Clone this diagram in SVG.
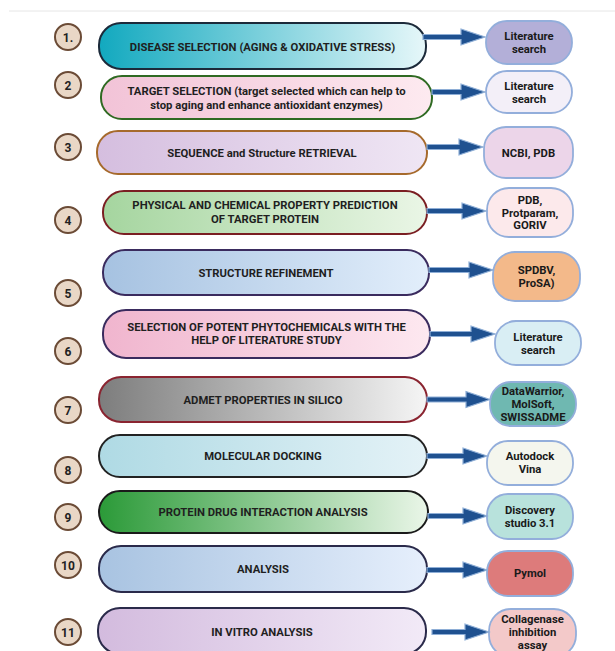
<svg xmlns="http://www.w3.org/2000/svg" width="615" height="651" viewBox="0 0 615 651">
<style>
.num circle{fill:#e9d7c6;stroke:#6b4b36;stroke-width:2}
.num text{font-family:Roboto,"Liberation Sans",sans-serif;font-weight:700;font-size:12px;fill:#222;text-anchor:middle}
.pill rect{stroke-width:2}
.pill text{font-family:Roboto,"Liberation Sans",sans-serif;font-weight:700;font-size:11.3px;fill:#1f1f1f;text-anchor:middle}
.box rect{stroke:#93aedb;stroke-width:1.8}
.box text{font-family:Roboto,"Liberation Sans",sans-serif;font-weight:700;font-size:11.3px;fill:#1a1a1a;text-anchor:middle}
.arr{fill:#1f5190;stroke:#8eaed6;stroke-width:1.2;stroke-linejoin:miter}
</style>
<defs>
<linearGradient id="g1"><stop offset="0" stop-color="#12a9bf"/><stop offset="1" stop-color="#e6f7f9"/></linearGradient>
<linearGradient id="g2"><stop offset="0" stop-color="#f2c3d7"/><stop offset="1" stop-color="#fdeaf0"/></linearGradient>
<linearGradient id="g3"><stop offset="0" stop-color="#d5bedf"/><stop offset="1" stop-color="#efe6f4"/></linearGradient>
<linearGradient id="g4"><stop offset="0" stop-color="#a5d59f"/><stop offset="1" stop-color="#eaf6e6"/></linearGradient>
<linearGradient id="g5"><stop offset="0" stop-color="#a6c2e1"/><stop offset="1" stop-color="#e2eefb"/></linearGradient>
<linearGradient id="g6"><stop offset="0" stop-color="#f0b5ce"/><stop offset="1" stop-color="#fde8f0"/></linearGradient>
<linearGradient id="g7"><stop offset="0" stop-color="#7d7d7d"/><stop offset="1" stop-color="#f5f5f5"/></linearGradient>
<linearGradient id="g8"><stop offset="0" stop-color="#afdae4"/><stop offset="1" stop-color="#e4f2f7"/></linearGradient>
<linearGradient id="g9"><stop offset="0" stop-color="#2b9a38"/><stop offset="1" stop-color="#eaf6e8"/></linearGradient>
<linearGradient id="g10"><stop offset="0" stop-color="#a8c3e1"/><stop offset="1" stop-color="#e6effc"/></linearGradient>
<linearGradient id="g11"><stop offset="0" stop-color="#d3bbde"/><stop offset="1" stop-color="#f2eaf7"/></linearGradient>
</defs>
<rect x="0" y="0" width="615" height="651" fill="#ffffff"/>
<line x1="9" y1="11" x2="615" y2="11" stroke="#e6e6e6" stroke-width="1"/>

<g id="numbers">
<g id="n1" class="num"><circle cx="68" cy="37" r="13"/><text x="68" y="41.5">1.</text></g>
<g id="n2" class="num"><circle cx="68" cy="85" r="13"/><text x="68" y="89.5">2</text></g>
<g id="n3" class="num"><circle cx="68" cy="147" r="13"/><text x="68" y="151.5">3</text></g>
<g id="n4" class="num"><circle cx="68" cy="220" r="13"/><text x="68" y="224.5">4</text></g>
<g id="n5" class="num"><circle cx="68" cy="293" r="13"/><text x="68" y="297.5">5</text></g>
<g id="n6" class="num"><circle cx="68" cy="351" r="13"/><text x="68" y="355.5">6</text></g>
<g id="n7" class="num"><circle cx="68" cy="410" r="13"/><text x="68" y="414.5">7</text></g>
<g id="n8" class="num"><circle cx="68" cy="470" r="13"/><text x="68" y="474.5">8</text></g>
<g id="n9" class="num"><circle cx="68" cy="517" r="13"/><text x="68" y="521.5">9</text></g>
<g id="n10" class="num"><circle cx="68" cy="565" r="13"/><text x="68" y="569.5">10</text></g>
<g id="n11" class="num"><circle cx="68" cy="632" r="13"/><text x="68" y="636.5">11</text></g>
</g>

<g id="steps">
<g id="s1" class="pill"><rect x="99" y="23" width="327" height="46" rx="22" fill="url(#g1)" stroke="#1c2a3a"/><text x="262.5" y="50.5">DISEASE SELECTION (AGING &amp; OXIDATIVE STRESS)</text></g>
<g id="s2" class="pill"><rect x="101" y="76" width="331" height="43" rx="21" fill="url(#g2)" stroke="#2f6a22"/><text x="266.5" y="95">TARGET SELECTION (target selected which can help to</text><text x="266.5" y="109">stop aging and enhance antioxidant enzymes)</text></g>
<g id="s3" class="pill"><rect x="97" y="131" width="330" height="43" rx="21" fill="url(#g3)" stroke="#a66a2c"/><text x="262" y="156.5">SEQUENCE and Structure RETRIEVAL</text></g>
<g id="s4" class="pill"><rect x="103" y="191" width="324" height="43" rx="21" fill="url(#g4)" stroke="#7a1e22"/><text x="265" y="208.5">PHYSICAL AND CHEMICAL PROPERTY PREDICTION</text><text x="265" y="222.5">OF TARGET PROTEIN</text></g>
<g id="s5" class="pill"><rect x="103" y="250" width="326" height="45" rx="22" fill="url(#g5)" stroke="#3a2b5e"/><text x="266" y="277">STRUCTURE REFINEMENT</text></g>
<g id="s6" class="pill"><rect x="103" y="310" width="327" height="48" rx="23" fill="url(#g6)" stroke="#3a2b5e"/><text x="266.5" y="330.5">SELECTION OF POTENT PHYTOCHEMICALS WITH THE</text><text x="266.5" y="344">HELP OF LITERATURE STUDY</text></g>
<g id="s7" class="pill"><rect x="99" y="377" width="328" height="45" rx="22" fill="url(#g7)" stroke="#8a2430"/><text x="263" y="403.5">ADMET PROPERTIES IN SILICO</text></g>
<g id="s8" class="pill"><rect x="99" y="435" width="328" height="42" rx="21" fill="url(#g8)" stroke="#222222"/><text x="263" y="460">MOLECULAR DOCKING</text></g>
<g id="s9" class="pill"><rect x="99" y="491" width="329" height="42" rx="21" fill="url(#g9)" stroke="#1a1a1a"/><text x="263" y="515.5">PROTEIN DRUG INTERACTION ANALYSIS</text></g>
<g id="s10" class="pill"><rect x="99" y="546" width="328" height="46" rx="22" fill="url(#g10)" stroke="#2a2a4a"/><text x="263" y="573">ANALYSIS</text></g>
<g id="s11" class="pill"><rect x="98" y="608" width="328" height="46" rx="22" fill="url(#g11)" stroke="#2a2a4a"/><text x="262" y="635.5">IN VITRO ANALYSIS</text></g>
</g>

<g id="tools">
<g id="t1" class="box"><rect x="486" y="21" width="86" height="43" rx="21" fill="#b3afd8"/><text x="529" y="40">Literature</text><text x="529" y="53">search</text></g>
<g id="t2" class="box"><rect x="486" y="71" width="86" height="42" rx="21" fill="#f3eff8"/><text x="529" y="90">Literature</text><text x="529" y="103">search</text></g>
<g id="t3" class="box"><rect x="484" y="127" width="89" height="51" rx="22" fill="#ecd5e9"/><text x="528.5" y="156.5">NCBI, PDB</text></g>
<g id="t4" class="box"><rect x="487" y="188" width="86" height="49" rx="22" fill="#fce9eb"/><text x="530" y="204">PDB,</text><text x="530" y="216.5">Protparam,</text><text x="530" y="229">GORIV</text></g>
<g id="t5" class="box"><rect x="493" y="252" width="87" height="49" rx="22" fill="#f3b98a"/><text x="536.5" y="274">SPDBV,</text><text x="536.5" y="287">ProSA)</text></g>
<g id="t6" class="box"><rect x="495" y="321" width="86" height="44" rx="21" fill="#d9eef4"/><text x="538" y="340.5">Literature</text><text x="538" y="353.5">search</text></g>
<g id="t7" class="box"><rect x="490" y="382" width="86" height="44" rx="21" fill="#6fb8b1"/><text x="533" y="395">DataWarrior,</text><text x="533" y="408">MolSoft,</text><text x="533" y="421">SWISSADME</text></g>
<g id="t8" class="box"><rect x="487" y="441" width="86" height="44" rx="21" fill="#f4f6ee"/><text x="530" y="460">Autodock</text><text x="530" y="473">Vina</text></g>
<g id="t9" class="box"><rect x="487" y="494" width="86" height="45" rx="21" fill="#b8e2dc"/><text x="530" y="514">Discovery</text><text x="530" y="527">studio 3.1</text></g>
<g id="t10" class="box"><rect x="487" y="551" width="86" height="45" rx="21" fill="#dd7b7b"/><text x="530" y="577">Pymol</text></g>
<g id="t11" class="box"><rect x="489" y="609" width="87" height="48" rx="22" fill="#f3c9c9"/><text x="532.5" y="623">Collagenase</text><text x="532.5" y="636">inhibition</text><text x="532.5" y="649">assay</text></g>
</g>

<g id="connectors">
<path class="arr" d="M423,34.5 H461 V29 L485,37 L461,45 V39.5 H423 Z"/>
<path class="arr" d="M432,89.5 H461 V84 L485,92 L461,100 V94.5 H432 Z"/>
<path class="arr" d="M427,144.5 H459 V139 L483,147 L459,155 V149.5 H427 Z"/>
<path class="arr" d="M427,208.5 H462 V203 L486,211 L462,219 V213.5 H427 Z"/>
<path class="arr" d="M429,267.5 H469 V262 L493,270 L469,278 V272.5 H429 Z"/>
<path class="arr" d="M430,331.5 H471 V326 L495,334 L471,342 V336.5 H430 Z"/>
<path class="arr" d="M427,397 H466 V391.5 L490,399.5 L466,407.5 V402 H427 Z"/>
<path class="arr" d="M427,453.5 H463 V448 L487,456 L463,464 V458.5 H427 Z"/>
<path class="arr" d="M428,513.5 H463 V508 L487,516 L463,524 V518.5 H428 Z"/>
<path class="arr" d="M427,567.5 H463 V562 L487,570 L463,578 V572.5 H427 Z"/>
<path class="arr" d="M432,629.5 H465 V624 L489,632 L465,640 V634.5 H432 Z"/>
</g>
</svg>
